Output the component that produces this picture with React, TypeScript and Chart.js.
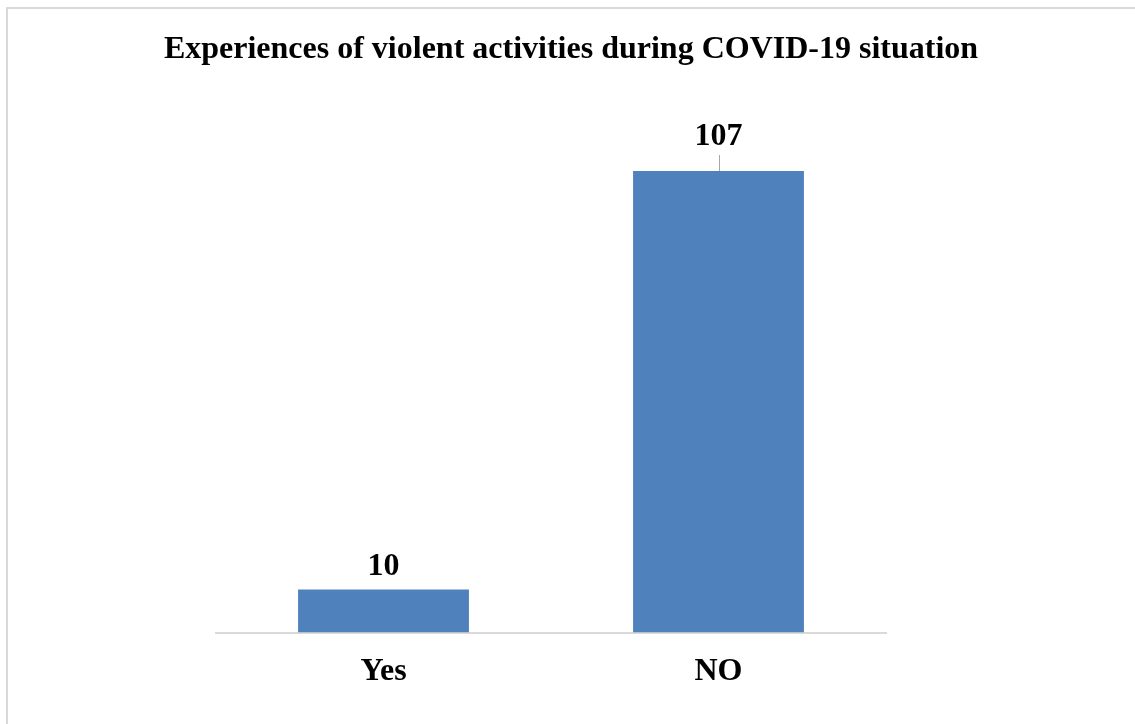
import React, { useEffect, useRef } from "react";
import { Chart, registerables } from "chart.js";

Chart.register(...registerables);

const categories: string[] = ["Yes", "NO"];
const responses: number[] = [10, 107];
const chartTitle = "Experiences of violent activities during COVID-19 situation";

const SERIF = '"Liberation Serif", "Times New Roman", serif';
const BAR_BLUE = "#4F81BD";
const AXIS_GREY = "#D9D9D9";

// Title drawn across the full width of the canvas, above the plot area.
const fullWidthTitle = {
  id: "fullWidthTitle",
  afterDraw(chart: Chart) {
    const ctx = chart.ctx;
    ctx.save();
    ctx.font = `bold 32px ${SERIF}`;
    ctx.fillStyle = "#000";
    ctx.textAlign = "center";
    ctx.textBaseline = "alphabetic";
    ctx.fillText(chartTitle, 571, 58);
    ctx.restore();
  },
};

// Value labels above each bar; the tall bar's label sits higher with a short leader line.
const valueLabels = {
  id: "valueLabels",
  afterDatasetsDraw(chart: Chart) {
    const ctx = chart.ctx;
    const meta = chart.getDatasetMeta(0);
    const values = chart.data.datasets[0].data as number[];
    ctx.save();
    ctx.font = `bold 32px ${SERIF}`;
    ctx.fillStyle = "#000";
    ctx.textAlign = "center";
    ctx.textBaseline = "alphabetic";
    meta.data.forEach((bar: any, i: number) => {
      const lifted = values[i] > 50;
      const baseline = bar.y - (lifted ? 26 : 14);
      ctx.fillText(String(values[i]), bar.x, baseline);
      if (lifted) {
        ctx.strokeStyle = "#A6A6A6";
        ctx.lineWidth = 1;
        ctx.beginPath();
        ctx.moveTo(Math.round(bar.x) + 0.5, baseline + 10);
        ctx.lineTo(Math.round(bar.x) + 0.5, bar.y);
        ctx.stroke();
      }
    });
    ctx.restore();
  },
};

export default function App() {
  const canvasRef = useRef<HTMLCanvasElement | null>(null);

  useEffect(() => {
    if (!canvasRef.current) return;
    const chart = new Chart(canvasRef.current, {
      type: "bar",
      data: {
        labels: categories,
        datasets: [
          {
            data: responses,
            backgroundColor: BAR_BLUE,
            borderWidth: 0,
            barPercentage: 0.51,
            categoryPercentage: 1,
          },
        ],
      },
      options: {
        animation: false,
        responsive: false,
        maintainAspectRatio: false,
        layout: { padding: { left: 216, right: 249, top: 115, bottom: 21 } },
        plugins: {
          legend: { display: false },
          tooltip: { enabled: false },
          title: { display: false },
        },
        scales: {
          x: {
            grid: { display: false },
            border: { display: true, color: AXIS_GREY, width: 2 },
            ticks: {
              color: "#000",
              font: { family: SERIF, size: 32, weight: "bold" },
              padding: 12,
            },
          },
          y: {
            display: false,
            min: 0,
            max: 120,
          },
        },
      },
      plugins: [valueLabels, fullWidthTitle],
    });
    return () => chart.destroy();
  }, []);

  return (
    <div
      style={{
        position: "fixed",
        left: 0,
        top: 0,
        width: 1135,
        height: 724,
        background: "#fff",
        overflow: "hidden",
      }}
    >
      <div
        style={{
          position: "absolute",
          left: 6,
          top: 7,
          width: 1400,
          height: 1000,
          borderTop: `2px solid ${AXIS_GREY}`,
          borderLeft: `2px solid ${AXIS_GREY}`,
        }}
      />
      <canvas ref={canvasRef} width={1135} height={724} style={{ position: "absolute", left: 0, top: 0 }} />
    </div>
  );
}
